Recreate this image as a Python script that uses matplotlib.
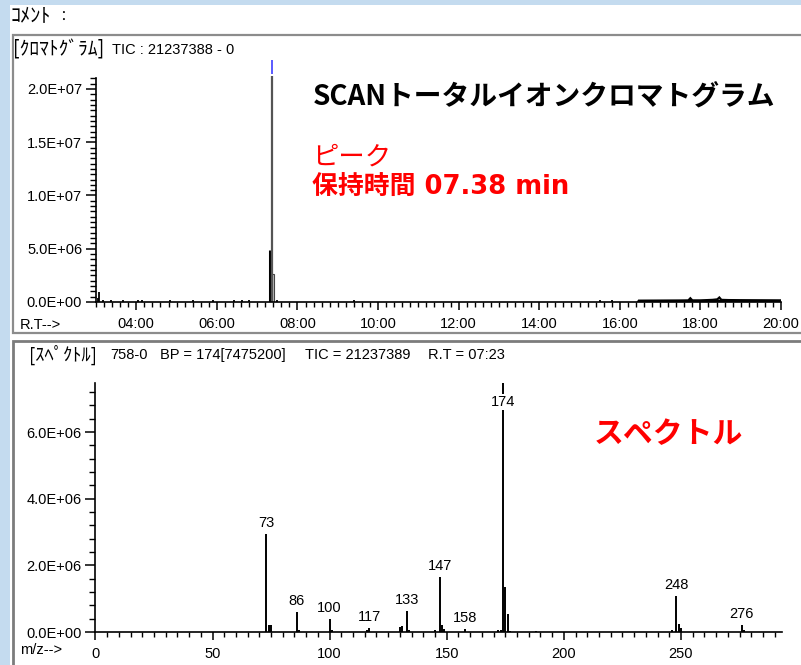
import matplotlib
matplotlib.use("Agg")
import matplotlib.pyplot as plt
from matplotlib.patches import Rectangle
from matplotlib.ticker import MultipleLocator, FuncFormatter

W, H = 801, 665
JP = ['Noto Sans CJK JP', 'DejaVu Sans']
LJP = ['DejaVu Sans', 'Noto Sans CJK JP']
NUM = ['Liberation Sans', 'DejaVu Sans']

# ---------------- data ----------------
# chromatogram (TIC): main peak scans
peak_rt = [7.32, 7.36, 7.40]
peak_int = [4.9e6, 21237388, 2.6e6]
# small baseline spikes
noise_rt = [3.04, 3.08, 3.18, 3.37, 3.67, 4.04, 4.14, 4.84, 5.40, 5.90, 6.43, 6.62, 6.80, 7.50, 9.40, 15.50, 15.80]
noise_int = [0.38e6, 0.94e6, 0.2e6, 0.2e6, 0.18e6, 0.2e6, 0.15e6, 0.15e6, 0.2e6, 0.18e6, 0.18e6, 0.15e6, 0.15e6, 0.15e6, 0.15e6, 0.18e6, 0.18e6]
# noisy late baseline (column bleed)
late_rt = [16.45, 16.47, 17.0, 17.5, 17.70, 17.75, 17.80, 18.0, 18.3, 18.42, 18.47, 18.52, 18.7, 19.0, 19.5, 20.0]
late_int = [0.0, 0.12e6, 0.13e6, 0.14e6, 0.15e6, 0.35e6, 0.15e6, 0.15e6, 0.2e6, 0.25e6, 0.42e6, 0.2e6, 0.18e6, 0.17e6, 0.16e6, 0.15e6]

# mass spectrum
mz = [73, 74, 75, 86, 87, 100, 101, 116, 117, 130, 131, 133, 134, 145, 147, 148, 149, 158,
      172, 173, 174, 175, 176, 177, 188, 246, 248, 249, 250, 276, 277]
intensity = [2.94e6, 0.21e6, 0.20e6, 0.59e6, 0.05e6, 0.38e6, 0.05e6, 0.05e6, 0.13e6, 0.15e6, 0.17e6,
             0.63e6, 0.06e6, 0.05e6, 1.64e6, 0.21e6, 0.09e6, 0.08e6,
             0.05e6, 0.05e6, 7475200, 1.34e6, 0.54e6, 0.04e6, 0.04e6, 0.05e6, 1.08e6, 0.24e6, 0.13e6,
             0.21e6, 0.05e6]
label_mz = [73, 86, 100, 117, 133, 147, 158, 174, 248, 276]

x_ticks_chrom = [4, 6, 8, 10, 12, 14, 16, 18, 20]

# ---------------- figure ----------------
fig = plt.figure(figsize=(W / 100, H / 100), dpi=100)
fig.patch.set_facecolor('#c4dbef')


def fx(x):
    return x / W


def fy(y):
    return 1 - y / H


def prect(x0, y0, x1, y1, **kw):
    r = Rectangle((fx(x0), fy(y1)), fx(x1) - fx(x0), fy(y0) - fy(y1),
                  transform=fig.transFigure, zorder=-10, **kw)
    fig.patches.append(r)


# white content area
prect(10, 5, 802, 666, facecolor='white', edgecolor='none')
# panels
prect(12.5, 35, 806, 333, facecolor='white', edgecolor='#8c8c8c', linewidth=1.6)
prect(12.5, 341, 806, 668, facecolor='white', edgecolor='#7c7c7c', linewidth=2.0)

fig.text(fx(11), fy(17), 'ｺﾒﾝﾄ', family=JP, fontsize=14.5, va='center', ha='left')
fig.text(fx(56), fy(17), '：', family=JP, fontsize=10, va='center', ha='left')
fig.text(fx(13), fy(50), '[ｸﾛﾏﾄｸﾞﾗﾑ]', family=JP, fontsize=14, va='center', ha='left')
fig.text(fx(112), fy(50), 'TIC : 21237388 - 0', family=NUM, fontsize=10.5, va='center', ha='left')
fig.text(fx(29), fy(355), '[ｽﾍﾟｸﾄﾙ]', family=JP, fontsize=13.3, va='center', ha='left')
fig.text(fx(110), fy(355), '758-0', family=NUM, fontsize=10.5, va='center', ha='left')
fig.text(fx(160), fy(355), 'BP = 174[7475200]', family=NUM, fontsize=10.5, va='center', ha='left')
fig.text(fx(305), fy(355), 'TIC = 21237389', family=NUM, fontsize=10.5, va='center', ha='left')
fig.text(fx(428), fy(355), 'R.T = 07:23', family=NUM, fontsize=10.5, va='center', ha='left')
fig.text(fx(20), fy(325), 'R.T-->', family=NUM, fontsize=10.5, va='center', ha='left')
fig.text(fx(20), fy(650), 'm/z-->', family=NUM, fontsize=10.5, va='center', ha='left')


def style_axes(ax):
    ax.set_facecolor('none')
    for s in ('top', 'right'):
        ax.spines[s].set_visible(False)
    for s in ('left', 'bottom'):
        ax.spines[s].set_linewidth(1.2)
        ax.spines[s].set_color('black')
    ax.tick_params(which='major', direction='out', length=7, width=1.1, colors='black', pad=4)
    ax.tick_params(which='minor', direction='out', length=4, width=1.0, colors='black')
    for lab in ax.get_xticklabels() + ax.get_yticklabels():
        lab.set_fontfamily(NUM)
        lab.set_fontsize(10.5)


def sci(v, _):
    if v == 0:
        return '0.0E+00'
    return f'{v:.1E}'


# ---------- chromatogram axes ----------
ax1 = fig.add_axes([fx(96), fy(302), fx(781) - fx(96), fy(78) - fy(302)])
ax1.set_xlim(3, 20)
ax1.set_ylim(0, 2.103e7)
ax1.set_xticks(x_ticks_chrom)
ax1.xaxis.set_major_formatter(FuncFormatter(lambda v, _: f'{int(v):02d}:00'))
ax1.xaxis.set_minor_locator(MultipleLocator(0.2))
ax1.yaxis.set_major_locator(MultipleLocator(5e6))
ax1.yaxis.set_minor_locator(MultipleLocator(5e5))
ax1.yaxis.set_major_formatter(FuncFormatter(sci))
style_axes(ax1)
ax1.tick_params(axis='x', which='major', length=6, pad=5)
ax1.tick_params(axis='x', which='minor', length=3.5)
ax1.tick_params(axis='y', which='major', length=7, pad=3)
ax1.tick_params(axis='y', which='minor', length=4.3)

ax1.vlines(noise_rt, 0, noise_int, color='black', linewidth=1.3)
ax1.plot(late_rt, late_int, color='black', linewidth=1.6, solid_joinstyle='miter')
ax1.hlines(0.1e6, 16.45, 20.0, color='black', linewidth=1.6)
# peak scans
ax1.vlines(peak_rt[0], 0, peak_int[0], color='black', linewidth=2.2)
ax1.bar(peak_rt[2], peak_int[2], width=0.045, color='#c8c8c8', edgecolor='#444444', linewidth=0.8)
ax1.vlines(peak_rt[1], 0, peak_int[1], color='#555555', linewidth=1.6, clip_on=False)
ax1.vlines(peak_rt[1], peak_int[1] + 0.02e7, 2.27e7, color='#5a5aff', linewidth=1.4, clip_on=False)

# ---------- spectrum axes ----------
ax2 = fig.add_axes([fx(95.4), fy(632), fx(781.7) - fx(95.4), fy(383) - fy(632)])
ax2.set_xlim(0, 293)
ax2.set_ylim(0, 7475200)
ax2.xaxis.set_major_locator(MultipleLocator(50))
ax2.xaxis.set_minor_locator(MultipleLocator(5))
ax2.yaxis.set_major_locator(MultipleLocator(2e6))
ax2.yaxis.set_minor_locator(MultipleLocator(4e5))
ax2.yaxis.set_major_formatter(FuncFormatter(sci))
style_axes(ax2)
ax2.tick_params(axis='x', which='major', length=6, pad=5)
ax2.tick_params(axis='x', which='minor', length=3.5)
ax2.tick_params(axis='y', which='major', length=7, pad=3)
ax2.tick_params(axis='y', which='minor', length=4)

ax2.vlines(mz, 0, intensity, color='black', linewidth=1.4)
for m in label_mz:
    v = intensity[mz.index(m)]
    if v >= 7e6:
        ax2.annotate(str(m), xy=(m, 1.0), xycoords=('data', 'axes fraction'),
                     xytext=(0, -19), textcoords='offset pixels', ha='center', va='center',
                     family=NUM, fontsize=10.5,
                     bbox=dict(boxstyle='square,pad=0.1', facecolor='white', edgecolor='none'))
    else:
        ax2.annotate(str(m), xy=(m, v), xytext=(0, 11), textcoords='offset pixels',
                     ha='center', va='center', family=NUM, fontsize=10.5)

# ---------- annotations ----------
fig.text(fx(313), fy(97), 'SCANトータルイオンクロマトグラム', family=JP, fontsize=20,
         fontweight='bold', color='black', ha='left', va='center')
fig.text(fx(312), fy(157), 'ピーク', family=JP, fontsize=19, color='#ff0000',
         ha='left', va='center')
fig.text(fx(312), fy(188), '保持時間 07.38 min', family=LJP, fontsize=18.6, fontweight='bold',
         color='#ff0000', ha='left', va='center')
fig.text(fx(594), fy(434), 'スペクトル', family=JP, fontsize=21.5, fontweight='bold',
         color='#ff0000', ha='left', va='center')

fig.savefig('out.png', dpi=100, facecolor=fig.get_facecolor())
